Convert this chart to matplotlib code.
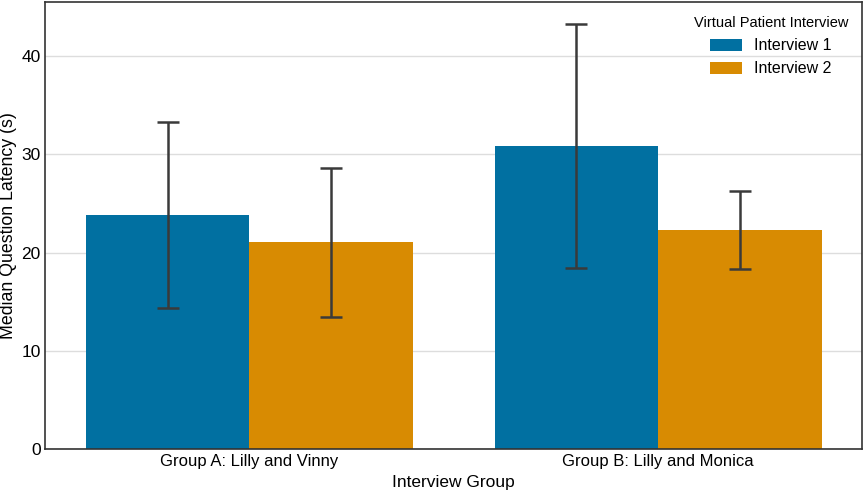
import numpy as np
import matplotlib
matplotlib.use("Agg")
import matplotlib.pyplot as plt

# data
groups = ["Group A: Lilly and Vinny", "Group B: Lilly and Monica"]
interviews = ["Interview 1", "Interview 2"]
medians = {
    "Interview 1": [23.8, 30.8],
    "Interview 2": [21.05, 22.3],
}
err_low = {
    "Interview 1": [14.4, 18.4],
    "Interview 2": [13.45, 18.3],
}
err_high = {
    "Interview 1": [33.3, 43.3],
    "Interview 2": [28.6, 26.3],
}
colors = ["#0170A1", "#D88B02"]

plt.rcParams["font.family"] = ["Liberation Sans", "DejaVu Sans"]

fig, ax = plt.subplots(figsize=(8.65, 4.91), dpi=100)
x = np.arange(len(groups))
width = 0.4

for i, name in enumerate(interviews):
    pos = x - width / 2 + i * width
    vals = np.array(medians[name])
    lo = vals - np.array(err_low[name])
    hi = np.array(err_high[name]) - vals
    ax.bar(pos, vals, width, color=colors[i], label=name, zorder=2)
    ax.errorbar(pos, vals, yerr=[lo, hi], fmt="none", ecolor="#3a3a3a",
                elinewidth=1.8, capsize=8, capthick=1.8, zorder=3)

ax.set_xlim(-0.5, 1.5)
ax.set_ylim(0, 45.5)
ax.set_xticks(x)
ax.set_xticklabels(groups, fontsize=12)
ax.set_yticks([0, 10, 20, 30, 40])
ax.tick_params(axis="y", labelsize=12.5, length=0, pad=3)
ax.tick_params(axis="x", length=0)
ax.set_xlabel("Interview Group", fontsize=12.5)
ax.set_ylabel("Median Question Latency (s)", fontsize=12.8, labelpad=3)
ax.yaxis.grid(True, color="#dddddd", linewidth=1, zorder=0)
ax.set_axisbelow(True)
for sp in ax.spines.values():
    sp.set_color("#333333")
    sp.set_linewidth(1.2)

leg = ax.legend(title="Virtual Patient Interview", loc="upper right",
                frameon=False, fontsize=11.5, title_fontsize=10.5,
                handlelength=2.0, handleheight=0.8, handletextpad=0.7)

plt.subplots_adjust(left=0.052, right=0.997, top=0.996, bottom=0.085)
plt.savefig("out.png", dpi=100)
